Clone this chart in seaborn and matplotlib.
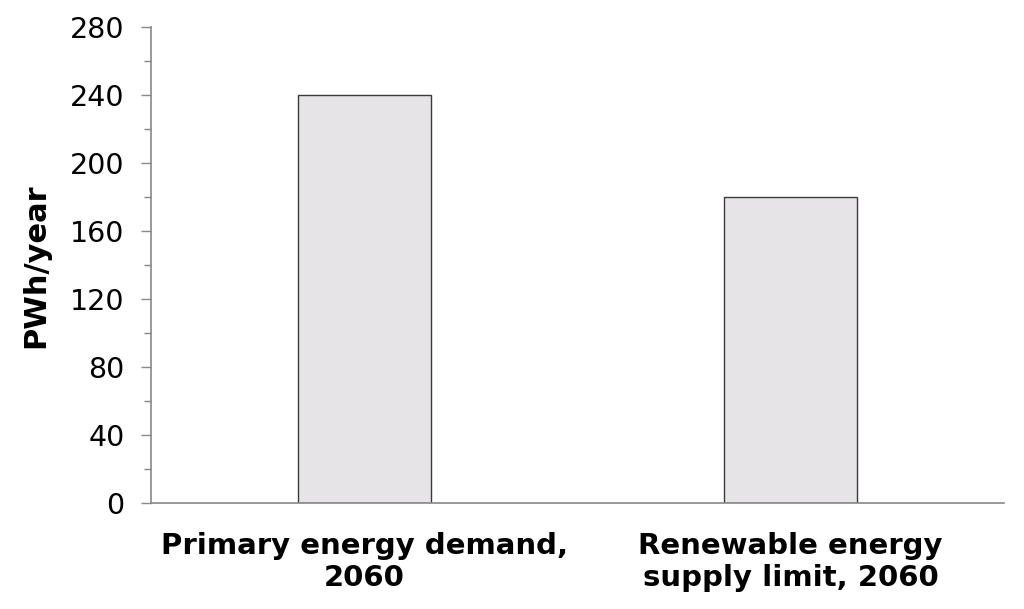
import numpy as np
import pandas as pd
import matplotlib
matplotlib.use("Agg")
import matplotlib.pyplot as plt
import seaborn as sns
from matplotlib.ticker import MultipleLocator

categories = ["Primary energy demand,\n2060", "Renewable energy\nsupply limit, 2060"]
values = [240, 180]

df = pd.DataFrame({"category": categories, "pwh": values})

sns.set_style("white")
plt.rcParams['font.family'] = ['DejaVu Sans']
plt.rcParams['text.color'] = 'black'
plt.rcParams['xtick.color'] = 'black'
plt.rcParams['ytick.color'] = 'black'
plt.rcParams['axes.labelcolor'] = 'black'

fig, ax = plt.subplots(figsize=(10.24, 6.09), dpi=100)
fig.subplots_adjust(left=0.1475, right=0.98, top=0.955, bottom=0.174)

sns.barplot(data=df, x="category", y="pwh", color="#e6e4e6", edgecolor="#3a3a3a",
            linewidth=1.0, width=0.312, saturation=1, ax=ax)

ax.set_xlim(-0.5, 1.5)
ax.set_ylim(0, 280)
ax.yaxis.set_major_locator(MultipleLocator(40))
ax.yaxis.set_minor_locator(MultipleLocator(20))

for side in ["top", "right"]:
    ax.spines[side].set_visible(False)
for side in ["left", "bottom"]:
    ax.spines[side].set_color("#888888")
    ax.spines[side].set_linewidth(1.2)

ax.tick_params(axis="y", which="major", left=True, length=7, width=1.0, color="#888888",
               labelcolor="black", labelsize=20.5, pad=12)
ax.tick_params(axis="y", which="minor", left=True, length=5, width=1.0, color="#888888")
ax.tick_params(axis="x", bottom=False, labelcolor="black", labelsize=21, pad=17)
ax.set_xticks(range(len(categories)))
ax.set_xticklabels(categories, fontweight="bold", linespacing=1.2)

ax.set_xlabel("")
ax.set_ylabel("PWh/year", fontsize=22, fontweight="bold", labelpad=14)

plt.savefig("out.png", dpi=100)
plt.close()
